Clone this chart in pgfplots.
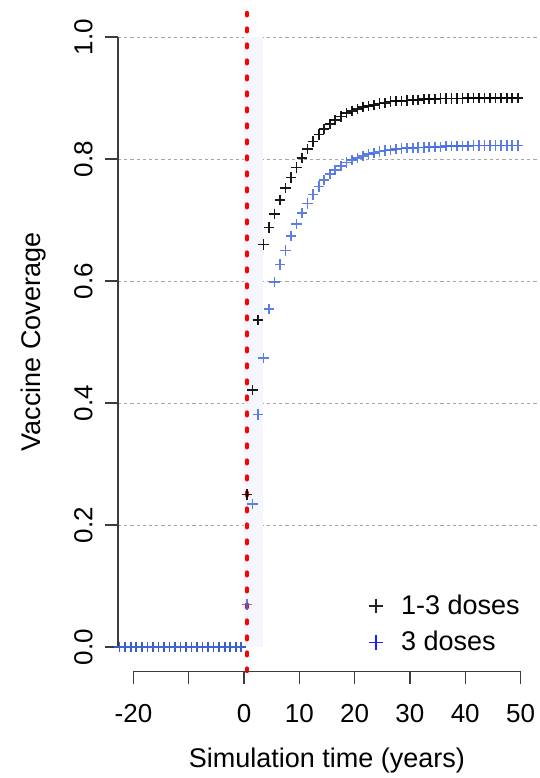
\documentclass[border=0pt]{standalone}
\usepackage{fontspec}
\setmainfont{Liberation Sans}
\usepackage{pgfplots}
\pgfplotsset{compat=1.18}
\usepackage{pgfplotstable}
\usetikzlibrary{calc}
\definecolor{covblue}{RGB}{65,105,225}
\definecolor{legblue}{RGB}{30,30,255}
\definecolor{shadeblue}{RGB}{246,247,254}
\definecolor{gridgray}{RGB}{165,165,165}
\definecolor{axgray}{RGB}{60,60,60}

% coverage by year: 1-3 doses (black) and 3 doses (blue)
\pgfplotstableread{
x     black  blue
-22.5 0 0
-21.5 0 0
-20.5 0 0
-19.5 0 0
-18.5 0 0
-17.5 0 0
-16.5 0 0
-15.5 0 0
-14.5 0 0
-13.5 0 0
-12.5 0 0
-11.5 0 0
-10.5 0 0
-9.5  0 0
-8.5  0 0
-7.5  0 0
-6.5  0 0
-5.5  0 0
-4.5  0 0
-3.5  0 0
-2.5  0 0
-1.5  0 0
-0.5  0 0
0.5   0.250 0.070
1.5   0.421 0.234
2.5   0.536 0.381
3.5   0.660 0.474
4.5   0.688 0.554
5.5   0.710 0.598
6.5   0.733 0.627
7.5   0.752 0.650
8.5   0.770 0.674
9.5   0.786 0.693
10.5  0.802 0.711
11.5  0.816 0.727
12.5  0.829 0.742
13.5  0.840 0.755
14.5  0.849 0.766
15.5  0.857 0.775
16.5  0.864 0.782
17.5  0.870 0.789
18.5  0.875 0.794
19.5  0.879 0.798
20.5  0.882 0.802
21.5  0.885 0.805
22.5  0.887 0.808
23.5  0.889 0.810
24.5  0.891 0.812
25.5  0.892 0.814
26.5  0.894 0.815
27.5  0.895 0.816
28.5  0.895 0.817
29.5  0.896 0.818
30.5  0.897 0.818
31.5  0.897 0.819
32.5  0.898 0.819
33.5  0.898 0.820
34.5  0.898 0.820
35.5  0.899 0.820
36.5  0.899 0.821
37.5  0.899 0.821
38.5  0.899 0.821
39.5  0.899 0.821
40.5  0.900 0.821
41.5  0.900 0.822
42.5  0.900 0.822
43.5  0.900 0.822
44.5  0.900 0.822
45.5  0.900 0.822
46.5  0.900 0.822
47.5  0.900 0.822
48.5  0.900 0.822
49.5  0.900 0.822
}\coverage

\begin{document}
\begin{tikzpicture}
\begin{axis}[
    name=ax,
    scale only axis, width=209pt, height=329.4pt,
    xmin=-22.8, xmax=52.8, ymin=-0.04, ymax=1.04,
    axis x line*=bottom, axis y line*=left,
    axis line style={draw=none},
    tick align=outside, major tick length=6.5pt,
    tick style={axgray, line width=0.6pt},
    xtick={-20,-10,0,10,20,30,40,50},
    xticklabels={-20,,0,10,20,30,40,50},
    ytick={0,0.2,0.4,0.6,0.8,1},
    yticklabels={0.0,0.2,0.4,0.6,0.8,1.0},
    xticklabel style={anchor=base, yshift=-19pt, font=\fontsize{13}{15}\selectfont},
    yticklabel style={xshift=-6.25pt, rotate=90, anchor=base, font=\fontsize{13}{15}\selectfont},
    every axis x label/.style={at={(axis description cs:0.5,0)}, anchor=base, yshift=-47.8pt, font=\fontsize{13.5}{16}\selectfont},
    every axis y label/.style={at={(axis description cs:0,0.5)}, xshift=-38.5pt, rotate=90, anchor=base, font=\fontsize{13.5}{16}\selectfont},
    xlabel={Simulation time (years)},
    ylabel={Vaccine Coverage},
    legend style={at={(axis description cs:0.5845,0.014)}, anchor=south west, draw=none, fill=none,
        font=\fontsize{13.5}{16}\selectfont, row sep=3pt},
    legend image code/.code={%
        \path[draw=none, fill=none] (-3.6pt,-3.6pt) rectangle (10.6pt,3.6pt);
        \draw[#1] plot coordinates {(0pt,0pt)};},
    legend cell align=left,
    clip=false,
]
% dotted grid
\pgfplotsinvokeforeach{0.2,0.4,0.6,0.8,1}{
  \draw[gridgray, line width=0.5pt, dash pattern=on 1.6pt off 1.5pt] (axis cs:-22.8,#1) -- (axis cs:53.6,#1);
}
% shaded start-up period
\fill[shadeblue] (axis cs:0,0) rectangle (axis cs:3.5,1);
% vaccine introduction
\draw[red, line width=1.8pt, line cap=round, dash pattern=on 1.75pt off 6.25pt, dash phase=0.22pt]
  (axis cs:0.5,1.04) -- (axis cs:0.5,-0.04);
% R-style axis lines
\draw[axgray, line width=0.6pt] (axis cs:-20,-0.04) -- (axis cs:50,-0.04);
\draw[axgray, line width=0.6pt] (axis cs:-22.8,0) -- (axis cs:-22.8,1);

\addplot[only marks, mark=+, mark size=2.6pt, line width=0.8pt, black, opacity=0.9, forget plot]
  table[x=x, y=black] {\coverage};
\addplot[only marks, mark=+, mark size=2.6pt, line width=0.8pt, covblue, opacity=0.85, forget plot]
  table[x=x, y=blue] {\coverage};

\addlegendimage{only marks, mark=+, mark size=3.6pt, line width=0.65pt, black!85}
\addlegendentry{1-3 doses}
\addlegendimage{only marks, mark=+, mark size=3.6pt, line width=0.65pt, legblue}
\addlegendentry{3 doses}
\end{axis}
\pgfresetboundingbox
\path[use as bounding box] ($(ax.south west)+(-59pt,-53.3pt)$) rectangle ($(ax.south west)+(211pt,335.7pt)$);
\end{tikzpicture}
\end{document}
